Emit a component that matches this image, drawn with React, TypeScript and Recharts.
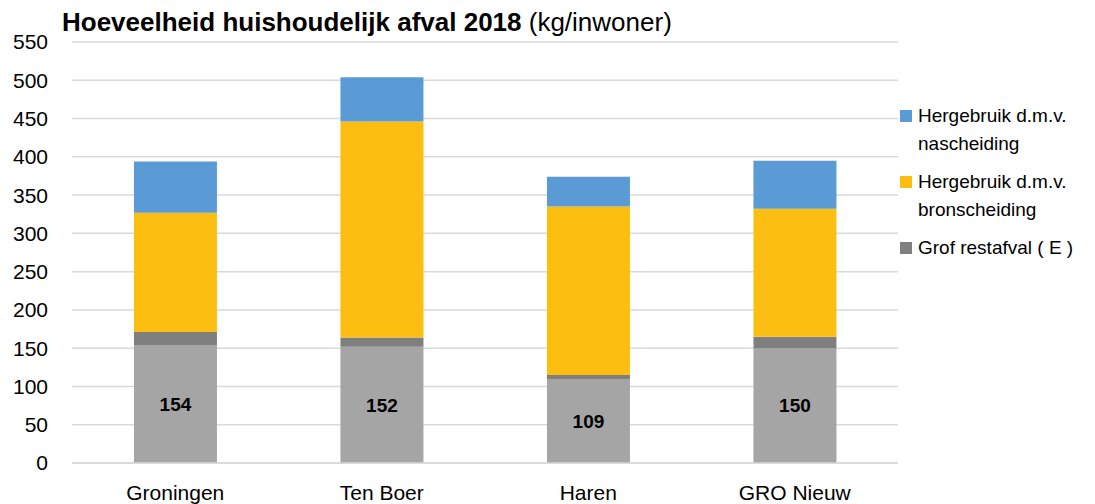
import { BarChart, Bar, XAxis, YAxis, CartesianGrid, Legend, LabelList } from 'recharts'

// values in kg per inhabitant
const categories = ['Groningen', 'Ten Boer', 'Haren', 'GRO Nieuw']
const restafval = [154, 152, 109, 150]
const grofRestafval = [17, 12, 6, 15]
const bronscheiding = [156, 282, 220, 167]
const nascheiding = [67, 58, 39, 63]
const yTicks = [0, 50, 100, 150, 200, 250, 300, 350, 400, 450, 500, 550]

const legendItems = [
  { lines: ['Hergebruik d.m.v.', 'nascheiding'], color: '#5b9bd5' },
  { lines: ['Hergebruik d.m.v.', 'bronscheiding'], color: '#fcbf11' },
  { lines: ['Grof restafval ( E )'], color: '#7f7f7f' },
]

const data = categories.map((name, i) => ({
  name,
  rest: restafval[i],
  grof: grofRestafval[i],
  bron: bronscheiding[i],
  nas: nascheiding[i],
}))

const font = "'Liberation Sans', Arial, sans-serif"

const renderLegend = () => (
  <div style={{ fontFamily: font, fontSize: 19, color: '#000', lineHeight: '28px', width: 197 }}>
    {legendItems.map((item) => (
      <div key={item.lines.join()} style={{ position: 'relative', paddingLeft: 20, marginBottom: 10 }}>
        <span
          style={{
            position: 'absolute',
            left: 2,
            top: 8,
            width: 12,
            height: 12,
            background: item.color,
          }}
        />
        {item.lines.map((l) => (
          <div key={l}>{l}</div>
        ))}
      </div>
    ))}
  </div>
)

export default function App() {
  return (
    <div style={{ position: 'fixed', left: 0, top: 0, width: 1095, height: 504, background: '#fff' }}>
      <div
        style={{
          position: 'absolute',
          left: 62,
          top: 7,
          fontFamily: font,
          fontSize: 26,
          color: '#000',
          whiteSpace: 'nowrap',
          zIndex: 2,
        }}
      >
        <b>Hoeveelheid huishoudelijk afval 2018</b> (kg/inwoner)
      </div>
      <BarChart
        width={1095}
        height={504}
        data={data}
        margin={{ top: 42, right: 0, bottom: 11, left: 0 }}
        barCategoryGap="30%"
      >
        <CartesianGrid vertical={false} stroke="#d9d9d9" strokeWidth={1.5} />
        <XAxis
          dataKey="name"
          height={30}
          axisLine={{ stroke: '#d9d9d9', strokeWidth: 1.5 }}
          tickLine={false}
          tickMargin={16}
          tick={{ fill: '#000', fontSize: 21, fontFamily: font }}
        />
        <YAxis
          width={72}
          domain={[0, 550]}
          ticks={yTicks}
          interval={0}
          axisLine={false}
          tickLine={false}
          tickMargin={18}
          tick={{ fill: '#000', fontSize: 21, fontFamily: font }}
        />
        <Legend
          layout="vertical"
          verticalAlign="top"
          align="right"
          content={renderLegend}
          wrapperStyle={{ left: 898, top: 102, width: 197 }}
        />
        <Bar dataKey="rest" stackId="a" fill="#a5a5a5" isAnimationActive={false}>
          <LabelList
            dataKey="rest"
            position="center"
            style={{ fill: '#000', fontSize: 19, fontWeight: 'bold', fontFamily: font }}
          />
        </Bar>
        <Bar dataKey="grof" stackId="a" fill="#7f7f7f" isAnimationActive={false} />
        <Bar dataKey="bron" stackId="a" fill="#fcbf11" isAnimationActive={false} />
        <Bar dataKey="nas" stackId="a" fill="#5b9bd5" isAnimationActive={false} />
      </BarChart>
    </div>
  )
}
